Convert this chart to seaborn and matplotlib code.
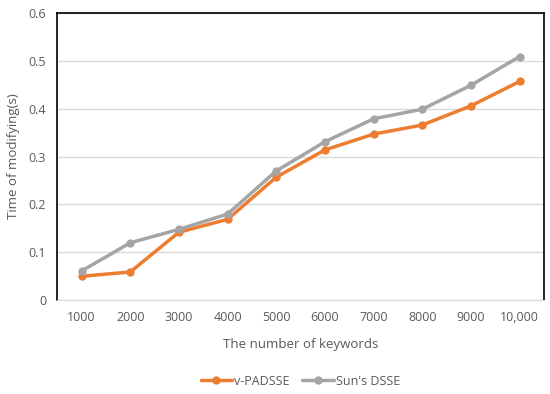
import pandas as pd
import matplotlib.pyplot as plt
import seaborn as sns

keywords = ["1000", "2000", "3000", "4000", "5000", "6000", "7000", "8000", "9000", "10,000"]
v_padsse = [0.050, 0.059, 0.142, 0.169, 0.257, 0.314, 0.347, 0.366, 0.406, 0.457]
sun_dsse = [0.061, 0.120, 0.148, 0.180, 0.270, 0.331, 0.379, 0.399, 0.449, 0.509]

df = pd.DataFrame({
    "keywords": keywords * 2,
    "time": v_padsse + sun_dsse,
    "method": ["v-PADSSE"] * 10 + ["Sun's DSSE"] * 10,
})

sns.set_style("white")
plt.rcParams["font.family"] = ["Open Sans", "DejaVu Sans"]

fig, ax = plt.subplots(figsize=(5.5, 3.94), dpi=100)
fig.subplots_adjust(left=0.104, right=0.989, top=0.967, bottom=0.238)

sns.lineplot(
    data=df, x="keywords", y="time", hue="method", sort=False,
    palette=["#ED7D31", "#A5A5A5"], marker="o", markersize=6,
    markeredgewidth=0, linewidth=2.5, ax=ax,
)

ax.set_xlim(-0.5, 9.5)
ax.set_ylim(0, 0.6)
ax.set_yticks([0, 0.1, 0.2, 0.3, 0.4, 0.5, 0.6])
ax.set_yticklabels(["0", "0.1", "0.2", "0.3", "0.4", "0.5", "0.6"])
ax.yaxis.grid(True, color="#D9D9D9", linewidth=1)
ax.set_axisbelow(True)

for side in ["left", "top", "right"]:
    ax.spines[side].set_color("black")
    ax.spines[side].set_linewidth(1.2)
ax.spines["bottom"].set_color("#D9D9D9")

ax.tick_params(axis="both", colors="#595959", labelsize=9, length=0, pad=8)
ax.set_xlabel("The number of keywords", color="#595959", fontsize=9.5, labelpad=10)
ax.set_ylabel("Time of modifying(s)", color="#595959", fontsize=9.5, labelpad=6)

ax.legend(
    loc="upper center", bbox_to_anchor=(0.5, -0.22), ncol=2, frameon=False,
    fontsize=9, labelcolor="#595959", handlelength=2.5, handletextpad=0.2,
    columnspacing=1.0,
)

plt.savefig("out.png", dpi=100)
